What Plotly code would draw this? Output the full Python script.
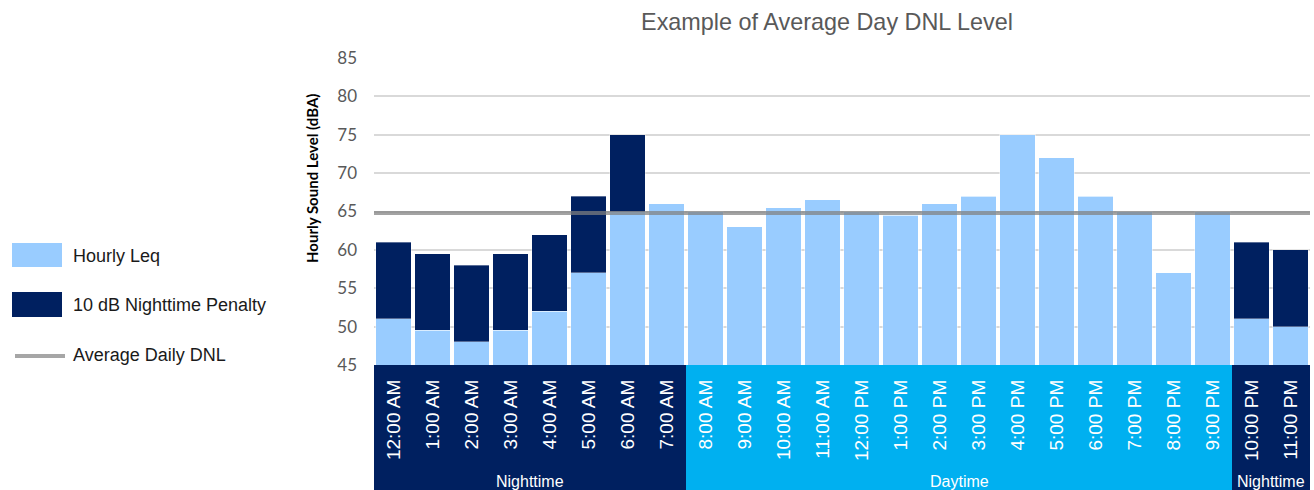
import plotly.graph_objects as go

# ---------------- data ----------------
hours = ["12:00 AM", "1:00 AM", "2:00 AM", "3:00 AM", "4:00 AM", "5:00 AM", "6:00 AM", "7:00 AM",
         "8:00 AM", "9:00 AM", "10:00 AM", "11:00 AM", "12:00 PM", "1:00 PM", "2:00 PM", "3:00 PM",
         "4:00 PM", "5:00 PM", "6:00 PM", "7:00 PM", "8:00 PM", "9:00 PM", "10:00 PM", "11:00 PM"]
hourly_leq = [51, 49.5, 48, 49.5, 52, 57, 65, 66,
              65, 63, 65.5, 66.5, 65, 64.5, 66, 67,
              75, 72, 67, 65, 57, 65, 51, 50]
night_penalty = [10, 10, 10, 10, 10, 10, 10, 0,
                 0, 0, 0, 0, 0, 0, 0, 0,
                 0, 0, 0, 0, 0, 0, 10, 10]
periods = ["Nighttime"] * 8 + ["Daytime"] * 14 + ["Nighttime"] * 2
avg_dnl = 64.8
y_ticks = [45, 50, 55, 60, 65, 70, 75, 80, 85]

# ---------------- style ----------------
LIGHT = "#99CCFF"
NAVY = "#002060"
CYAN = "#00B0F0"
ARIAL = "Liberation Sans, Arial, sans-serif"
CALI = "Lato, Open Sans, sans-serif"

W, H = 1314, 490
L, R, T, B = 374, 4, 58, 125
PW, PH = W - L - R, H - T - B


def px2x(px):
    return (px - L) / PW


def py2y(py):
    return (H - B - py) / PH


fig = go.Figure()
fig.add_trace(go.Bar(x=hours, y=hourly_leq, name="Hourly Leq",
                     marker=dict(color=LIGHT, line=dict(color="rgba(255,255,255,0.45)", width=1)),
                     showlegend=False))
fig.add_trace(go.Bar(x=hours, y=night_penalty, name="10 dB Nighttime Penalty",
                     marker=dict(color=NAVY, line=dict(color="rgba(255,255,255,0.35)", width=1)),
                     showlegend=False))

shapes = []
annotations = []

# period bands under the axis (positions from category indices)
n = len(hours)
runs = []
start = 0
for i in range(1, len(periods) + 1):
    if i == len(periods) or periods[i] != periods[start]:
        runs.append((periods[start], start, i - 1))
        start = i
for name, a, b in runs:
    col = NAVY if name == "Nighttime" else CYAN
    shapes.append(dict(type="rect", xref="paper", yref="paper", x0=a / n, x1=(b + 1) / n,
                       y0=py2y(492), y1=0, fillcolor=col, line=dict(width=0), layer="below"))
    annotations.append(dict(text=name, xref="paper", yref="paper", x=(a + b + 1) / (2 * n),
                            y=py2y(481), showarrow=False, xanchor="center", yanchor="middle",
                            font=dict(family=ARIAL, size=16, color="white")))

# custom legend
shapes.append(dict(type="rect", xref="paper", yref="paper", x0=px2x(12), x1=px2x(62),
                   y0=py2y(267), y1=py2y(243), fillcolor=LIGHT, line=dict(width=0)))
shapes.append(dict(type="rect", xref="paper", yref="paper", x0=px2x(12), x1=px2x(62),
                   y0=py2y(317), y1=py2y(292), fillcolor=NAVY, line=dict(width=0)))
shapes.append(dict(type="line", xref="paper", yref="paper", x0=px2x(15), x1=px2x(65),
                   y0=py2y(356), y1=py2y(356), line=dict(color="#A6A6A6", width=4)))
for txt, py in [("Hourly Leq", 256), ("10 dB Nighttime Penalty", 305), ("Average Daily DNL", 355)]:
    annotations.append(dict(text=txt, xref="paper", yref="paper", x=px2x(71), y=py2y(py),
                            showarrow=False, xanchor="left", yanchor="middle",
                            font=dict(family=ARIAL, size=18, color="#1a1a1a")))

# y-axis title
annotations.append(dict(text="<b>Hourly Sound Level (dBA)</b>", xref="paper", yref="paper",
                        x=px2x(312), y=py2y(179), textangle=-90, showarrow=False,
                        xanchor="center", yanchor="middle",
                        font=dict(family=CALI, size=15, color="#000000")))

fig.update_layout(
    width=W, height=H,
    margin=dict(l=L, r=R, t=T, b=B, pad=0),
    paper_bgcolor="white", plot_bgcolor="white",
    barmode="stack", bargap=0.1,
    title=dict(text="Example of Average Day DNL Level", x=827 / W, xref="container",
               y=1 - 22 / H, yref="container", xanchor="center", yanchor="middle",
               font=dict(family=ARIAL, size=23.4, color="#595959")),
    shapes=shapes, annotations=annotations,
    showlegend=False,
)
fig.add_hline(y=avg_dnl, line=dict(color="rgba(128,128,128,0.72)", width=4), layer="above")

fig.update_xaxes(type="category", tickangle=-90, showgrid=False, zeroline=False,
                 showline=False, ticks="", ticklabelstandoff=10,
                 tickfont=dict(family=ARIAL, size=19, color="white"))
fig.update_yaxes(range=[45, 85], tickvals=y_ticks, showgrid=True, gridcolor="#D9D9D9",
                 gridwidth=1.5, zeroline=False, showline=False, ticks="",
                 ticklabelstandoff=16,
                 tickfont=dict(family=CALI, size=17, color="#595959"))

fig.write_html("out.html")
